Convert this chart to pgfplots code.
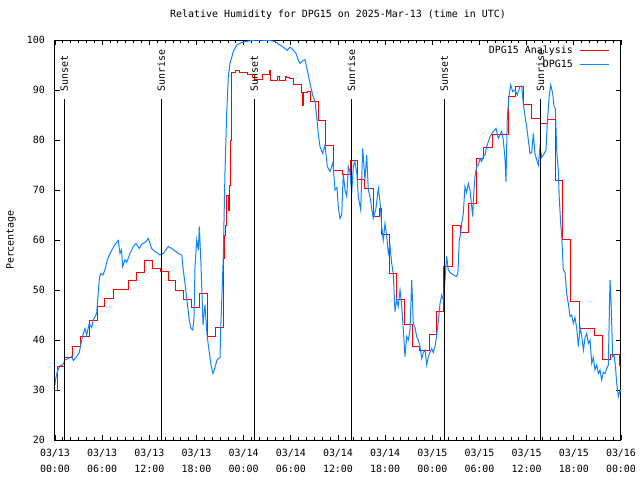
\documentclass[border=0pt]{standalone}
\usepackage{fontspec}
\setmainfont{DejaVu Sans Mono}
\usepackage{pgfplots}
\pgfplotsset{compat=1.18}
\definecolor{rhred}{RGB}{255,0,0}
\definecolor{rhblue}{RGB}{16,132,255}
\begin{document}
\begin{tikzpicture}[font=\fontsize{10}{16}\selectfont]
\path[use as bounding box] (-55bp,-40bp) rectangle (585bp,440bp);
\begin{axis}[
  at={(0,0)}, anchor=south west,
  scale only axis, width=566bp, height=400bp,
  xmin=0, xmax=72, ymin=20, ymax=100,
  xtick={0,6,...,72},
  xticklabels={{03/13\\00:00},{03/13\\06:00},{03/13\\12:00},{03/13\\18:00},{03/14\\00:00},{03/14\\06:00},{03/14\\12:00},{03/14\\18:00},{03/15\\00:00},{03/15\\06:00},{03/15\\12:00},{03/15\\18:00},{03/16\\00:00}},
  minor x tick num=5,
  ytick={20,30,...,100},
  tick align=inside,
  major tick length=5bp, minor tick length=3bp,
  tick style={black, line width=0.8bp},
  axis line style={black, line width=1bp},
  /pgf/number format/assume math mode=true,
  xticklabel style={align=center, inner sep=0pt, yshift=-9bp},
  yticklabel style={inner sep=0pt, xshift=-10bp},
  title={Relative Humidity for DPG15 on 2025-Mar-13 (time in UTC)},
  title style={at={(axis description cs:0.5,1)}, anchor=base, yshift=17bp},
  ylabel={Percentage},
  ylabel style={at={(axis description cs:-0.0777,0.5)}, anchor=center},
  legend cell align=right,
  legend plot pos=right,
  legend image code/.code={\draw[#1] (0bp,0bp) -- (29bp,0bp);},
  legend style={at={(axis description cs:1,1)}, anchor=north east, draw=none, fill=none, inner sep=0pt, xshift=-11bp, yshift=-3bp, row sep=-1bp, column sep=6bp, nodes={inner xsep=1bp, inner ysep=3bp}},
]
\addplot[rhred, line width=1bp, const plot] coordinates {
(0,29.9) (0.29,34.7) (1.27,36.5) (2.25,38.7) (3.27,40.8) (4.36,43.9) (5.43,46.7) (6.36,48.3) (7.42,50.1) (9.32,51.9) (10.39,53.5) (11.41,55.9) (12.34,54.3) (13.45,53.8) (14.41,51.9) (15.39,49.9) (16.41,48.1) (17.39,46.5) (18.36,49.3) (19.37,40.8) (20.39,42.5) (21.41,56.4) (21.56,61) (21.75,63) (21.88,69) (22.07,66) (22.20,71) (22.32,80) (22.43,93.5) (23.02,93.9) (23.44,93.5) (24.46,93.1) (25.44,92.2) (26.42,93.1) (27.26,93.9) (27.44,91.9) (28.28,92.8) (28.53,91.9) (29.26,92.8) (29.47,92.5) (29.89,92.3) (30.40,91.2) (31.38,89.5) (31.51,87) (31.59,89.5) (32.09,89.7) (32.44,87.7) (33.49,83.9) (34.47,79) (35.40,74) (36.60,73.1) (37.53,75.9) (38.45,72.1) (39.43,70.3) (40.49,64.7) (41.34,66.3) (41.56,61.1) (42.53,53.3) (43.47,48.1) (44.40,43.2) (45.42,38.7) (46.43,38) (47.61,41.2) (48.56,45.7) (49.48,54.7) (50.59,62.9) (51.52,61.6) (52.58,67.3) (53.56,76.3) (54.57,78.5) (55.68,81.2) (57.66,88.7) (58.64,90.8) (59.57,87.2) (60.64,84.3) (61.70,83.3) (62.62,84.1) (63.69,72) (64.58,60.1) (65.60,47.7) (66.66,42.3) (68.60,40.9) (69.67,36.1) (70.69,37.2) (71.78,35) (72,35)
};
\addlegendentry{DPG15 Analysis}
\addplot[rhblue, line width=1bp] coordinates {
(0,31) (0.06,32) (0.29,33.7) (0.64,34.9) (0.98,35) (1.27,36) (1.69,36.3) (2.12,36.7) (2.33,35.9) (2.76,36.7) (3.09,37.5) (3.40,40) (3.60,41.3) (3.82,42.3) (4.03,41) (4.36,43.3) (4.67,42.5) (4.87,44) (5.30,45.3) (5.64,52.3) (5.81,53.3) (6.11,53) (6.36,54.1) (6.65,56) (7.00,57.3) (7.34,58.3) (7.67,59.2) (8.05,59.9) (8.27,57.3) (8.46,58) (8.61,54.7) (8.90,56.1) (9.12,55.5) (9.54,57.3) (9.96,58.7) (10.30,59.3) (10.72,58.3) (11.03,59.2) (11.45,59.5) (11.87,60.3) (12.30,58.3) (12.72,57.7) (13.36,57) (13.78,57.3) (14.41,58.7) (15.05,58.1) (15.68,57.3) (16.12,57) (16.32,54) (16.54,51.3) (16.83,47.3) (17.08,44) (17.30,42.3) (17.52,42) (17.68,44.3) (17.81,54.7) (18.03,60) (18.23,58) (18.36,62.7) (18.57,55) (18.83,43) (19.08,47) (19.34,41) (19.59,38) (19.84,35) (20.10,33.3) (20.35,34.5) (20.61,36) (20.99,36.5) (21.08,42) (21.41,56.7) (21.63,74) (21.84,85.3) (22.05,92.7) (22.26,95.3) (22.68,97.7) (23.11,99) (23.75,99.5) (24.59,99.8) (25.66,100) (27.35,99.9) (27.99,99.7) (28.62,99) (29.26,98.3) (29.55,97.9) (29.89,98.6) (30.31,98) (30.66,97.3) (30.95,96) (31.17,95.3) (31.51,95.9) (31.80,96.1) (32.09,94) (32.44,91.3) (32.78,89) (33.07,87.7) (33.29,84.7) (33.49,81.3) (33.71,78.7) (34.05,77.3) (34.35,79) (34.64,74.7) (34.98,73.7) (35.20,74.7) (35.36,75.5) (35.62,70) (35.87,70.5) (36.04,66.7) (36.25,64.3) (36.47,65) (36.67,73.3) (36.89,70) (37.11,68.7) (37.31,74.7) (37.53,73.5) (37.74,69.3) (37.95,74.7) (38.16,75.7) (38.42,73) (38.58,68.7) (38.89,66) (39.14,78.3) (39.43,72) (39.65,77) (39.86,70) (40.07,68.7) (40.29,66.3) (40.49,64.3) (40.80,66) (41.13,70.3) (41.34,67.7) (41.56,62.7) (41.76,60) (41.98,63.3) (42.20,60.7) (42.40,57.3) (42.61,59) (42.83,55.3) (43.03,53.3) (43.25,45.7) (43.47,48) (43.67,46.7) (43.89,50) (44.10,47) (44.31,42) (44.52,36.7) (44.74,40.7) (44.94,40) (45.16,42) (45.38,52) (45.58,43.3) (45.80,42.5) (46.01,40.7) (46.22,40) (46.43,38.7) (46.65,36.3) (46.85,37.5) (47.07,38) (47.29,35) (47.49,36.7) (47.70,37.5) (47.92,38.3) (48.12,37.5) (48.34,38.7) (48.56,41) (48.76,43.7) (48.98,47.3) (49.19,49) (49.40,48) (49.61,52) (49.83,56.7) (50.03,54) (50.25,53.5) (50.67,53) (51.10,52.7) (51.26,53.5) (51.43,60) (51.61,61.3) (51.73,63.3) (51.94,65.3) (52.15,70.7) (52.37,69.5) (52.58,71.3) (52.79,70) (53.01,66.7) (53.13,64.7) (53.30,70) (53.43,72.7) (53.64,74.7) (53.85,75) (54.07,76.3) (54.28,75.7) (54.48,76.7) (54.70,77) (54.92,78.7) (55.34,80.7) (55.76,81.7) (56.10,82.3) (56.39,80.3) (56.61,81) (56.82,81.7) (57.03,80) (57.24,76.3) (57.37,71.7) (57.54,84.7) (57.75,88.7) (57.97,91) (58.22,89.7) (58.52,90) (58.81,89) (59.15,90.7) (59.37,90.8) (59.57,87.3) (59.79,84.7) (60.00,82.7) (60.21,80) (60.42,77.3) (60.64,77.5) (60.85,81.3) (61.06,77.3) (61.28,76) (61.48,75) (61.70,78.7) (61.91,76.5) (62.12,77) (62.46,78) (62.62,83.3) (62.88,89) (63.06,91) (63.31,89.3) (63.48,86.7) (63.65,86.3) (63.82,78) (64.02,74) (64.15,68.3) (64.33,63.3) (64.46,60.7) (64.66,54) (64.88,53.5) (65.09,49.3) (65.30,47.3) (65.51,44.7) (65.73,45) (65.94,43.3) (66.15,44.5) (66.37,42.3) (66.58,38.7) (66.79,42.5) (67.01,40.7) (67.22,38) (67.43,40.5) (67.64,41.3) (67.85,39.3) (68.06,40) (68.28,35.3) (68.48,36.5) (68.69,34) (68.91,35) (69.12,33.3) (69.33,34) (69.54,32) (69.75,33.5) (69.97,33.3) (70.18,34.3) (70.39,35) (70.60,52) (70.73,48) (70.94,36.7) (71.11,37) (71.28,35) (71.46,31.3) (71.66,28.7) (71.88,30) (72,29.5)
};
\addlegendentry{DPG15}
\addplot[black, line width=1bp, forget plot] coordinates {(1.18,20) (1.18,88.2)};
\addplot[black, line width=1bp, forget plot] coordinates {(13.52,20) (13.52,88.2)};
\addplot[black, line width=1bp, forget plot] coordinates {(25.36,20) (25.36,88.2)};
\addplot[black, line width=1bp, forget plot] coordinates {(37.70,20) (37.70,88.2)};
\addplot[black, line width=1bp, forget plot] coordinates {(49.53,20) (49.53,88.2)};
\addplot[black, line width=1bp, forget plot] coordinates {(61.74,20) (61.74,88.2)};
\node[rotate=90, anchor=west, inner sep=0pt] at (axis cs:1.18,89.6) {Sunset};
\node[rotate=90, anchor=west, inner sep=0pt] at (axis cs:13.52,89.6) {Sunrise};
\node[rotate=90, anchor=west, inner sep=0pt] at (axis cs:25.36,89.6) {Sunset};
\node[rotate=90, anchor=west, inner sep=0pt] at (axis cs:37.70,89.6) {Sunrise};
\node[rotate=90, anchor=west, inner sep=0pt] at (axis cs:49.53,89.6) {Sunset};
\node[rotate=90, anchor=west, inner sep=0pt] at (axis cs:61.74,89.6) {Sunrise};
\end{axis}
\end{tikzpicture}
\end{document}
